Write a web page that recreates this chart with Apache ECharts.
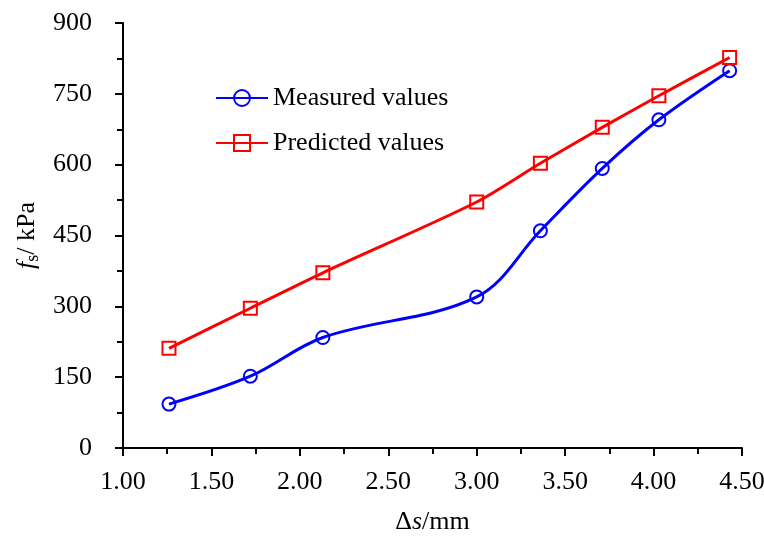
<!DOCTYPE html>
<html>
<head>
<meta charset="utf-8">
<script src="https://cdn.jsdelivr.net/npm/echarts@6/dist/echarts.min.js"></script>
<style>html,body{margin:0;padding:0;background:#fff;}#c{width:764px;height:536px;}</style>
</head>
<body>
<div id="c"></div>
<script>
var xValues = [1.26, 1.72, 2.13, 3.00, 3.36, 3.71, 4.03, 4.43];
var measured = [93, 152, 234, 320, 460, 592, 695, 799];
var predicted = [211, 296, 371, 521, 603, 679, 746, 827];
var seriesNames = ['Measured values', 'Predicted values'];

function pairs(xs, ys) { return xs.map(function (x, i) { return [x, ys[i]]; }); }

var FONT = '"Liberation Serif", "Times New Roman", serif';
var chart = echarts.init(document.getElementById('c'));
chart.setOption({
  animation: false,
  backgroundColor: '#fff',
  textStyle: { fontFamily: FONT },
  grid: { left: 123, right: 22, top: 23, bottom: 88, containLabel: false, outerBoundsMode: 'none' },
  legend: {
    orient: 'vertical', left: 210, top: 80, itemGap: 19,
    itemWidth: 52, itemHeight: 20,
    textStyle: { fontFamily: FONT, fontSize: 26, color: '#000', lineHeight: 26 },
    data: seriesNames
  },
  xAxis: {
    type: 'value', min: 1, max: 4.5, interval: 0.5,
    name: '{d|Δ}{i|s}{n|/mm}', nameLocation: 'middle', nameGap: 61,
    nameTextStyle: { fontFamily: FONT, fontSize: 26, color: '#000',
      rich: { d: { fontFamily: FONT, fontSize: 26, color: '#000' },
              i: { fontFamily: FONT, fontSize: 26, fontStyle: 'italic', color: '#000' },
              n: { fontFamily: FONT, fontSize: 26, color: '#000' } } },
    axisLine: { lineStyle: { color: '#000', width: 2 } },
    axisTick: { show: true, inside: false, length: 8, lineStyle: { color: '#000', width: 2 } },
    minorTick: { show: true, splitNumber: 2, length: 6, lineStyle: { color: '#000', width: 2 } },
    splitLine: { show: false },
    axisLabel: { fontFamily: FONT, fontSize: 26, color: '#000', margin: 21,
      formatter: function (v) { return v.toFixed(2); } }
  },
  yAxis: {
    type: 'value', min: 0, max: 900, interval: 150,
    name: '{i|f}{sub|s}{n|/ kPa}', nameLocation: 'middle', nameGap: 67, nameRotate: 90,
    nameTextStyle: { fontFamily: FONT, fontSize: 26, color: '#000',
      rich: { i: { fontFamily: FONT, fontSize: 26, fontStyle: 'italic', color: '#000' },
              sub: { fontFamily: FONT, fontSize: 18, color: '#000', verticalAlign: 'bottom', lineHeight: 30 },
              n: { fontFamily: FONT, fontSize: 26, color: '#000' } } },
    axisLine: { show: true, lineStyle: { color: '#000', width: 2 } },
    axisTick: { show: true, inside: false, length: 8, lineStyle: { color: '#000', width: 2 } },
    minorTick: { show: true, splitNumber: 2, length: 6, lineStyle: { color: '#000', width: 2 } },
    splitLine: { show: false },
    axisLabel: { fontFamily: FONT, fontSize: 26, color: '#000', margin: 31 }
  },
  series: [
    {
      name: seriesNames[0], type: 'line', data: pairs(xValues, measured),
      smooth: 0.35, symbol: 'circle', symbolSize: 13,
      lineStyle: { color: '#0000ff', width: 3 },
      itemStyle: { color: 'rgba(255,255,255,0)', borderColor: '#0000ff', borderWidth: 2 },
      color: '#0000ff'
    },
    {
      name: seriesNames[1], type: 'line', data: pairs(xValues, predicted),
      smooth: 0.25, symbol: 'rect', symbolSize: 13,
      lineStyle: { color: '#ff0000', width: 3 },
      itemStyle: { color: 'rgba(255,255,255,0)', borderColor: '#ff0000', borderWidth: 2 },
      color: '#ff0000'
    }
  ]
});
</script>
</body>
</html>
